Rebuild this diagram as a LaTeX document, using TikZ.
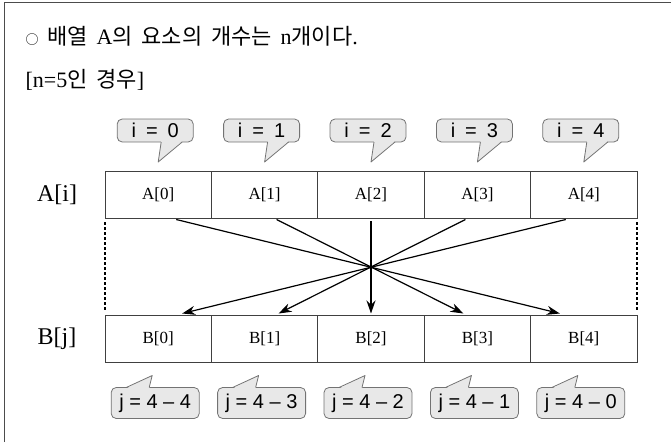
\documentclass[tikz,border=0pt]{standalone}
\usepackage{fontspec}
\setmainfont{Liberation Serif}
\setsansfont{Liberation Sans}
\newfontfamily\krfont{Noto Sans CJK KR}
\usepackage{tikz}
\usetikzlibrary{positioning}
\usetikzlibrary{arrows.meta}

\begin{document}
\begin{tikzpicture}[
      x=1pt, y=-1pt,
      cell/.style={draw=black!75, line width=0.9pt, minimum width=106.4pt,
        minimum height=47pt, inner sep=0pt, outer sep=0pt,
        font=\fontsize{17}{17}\selectfont},
      rowlabel/.style={font=\fontsize{24}{24}\selectfont},
      headline/.style={anchor=west, font={\fontsize{22}{24}\selectfont\spaceskip 0.4em\relax}},
      bubble/.style={draw=black!55, fill=black!9, line width=0.8pt,
        rounded corners=5pt, inner sep=0pt, outer sep=0pt},
      topbubble/.style={bubble, minimum width=76pt, minimum height=23pt,
        font=\sffamily\fontsize{20}{20}\selectfont},
      botbubble/.style={bubble, minimum width=88pt, minimum height=31pt,
        font=\sffamily\fontsize{20}{20}\selectfont},
      tailfill/.style={fill=black!9},
      tailline/.style={draw=black!55, line width=0.8pt, line join=round},
      revarrow/.style={-{Stealth[length=13pt,width=9pt]}, line width=1.2pt},
      guide/.style={line width=1.6pt, dash pattern=on 3pt off 2pt}
    ]
    \useasboundingbox (0,0) rectangle (671,442);
    \draw[black!70, line width=1pt] (4,442) -- (4,2) -- (671,2);

    % text on top
    \node[headline] (title) at (22,36)
      {{\krfont\fontsize{13}{13}\selectfont ○} {\krfont 배열} A{\krfont 의 요소의 개수는} n{\krfont 개이다}.};
    \node[headline] (case) at (22,80)
      {[n=5{\krfont 인 경우}]};

    % array A
    \node[rowlabel] (alabel) at (57,195) {A[i]};
    \node[cell] (a0) at (158.2,194.5) {A[0]};
    \node[cell, right=0pt of a0] (a1) {A[1]};
    \node[cell, right=0pt of a1] (a2) {A[2]};
    \node[cell, right=0pt of a2] (a3) {A[3]};
    \node[cell, right=0pt of a3] (a4) {A[4]};

    % array B
    \node[rowlabel] (blabel) at (57,339) {B[j]};
    \node[cell] (b0) at (158.2,339) {B[0]};
    \node[cell, right=0pt of b0] (b1) {B[1]};
    \node[cell, right=0pt of b1] (b2) {B[2]};
    \node[cell, right=0pt of b2] (b3) {B[3]};
    \node[cell, right=0pt of b3] (b4) {B[4]};

    % index bubbles for i
    \node[topbubble, above=29pt of a0, xshift=-3pt] (i0) {i\enspace=\enspace0};
    \node[topbubble, above=29pt of a1, xshift=-3pt] (i1) {i\enspace=\enspace1};
    \node[topbubble, above=29pt of a2, xshift=-3pt] (i2) {i\enspace=\enspace2};
    \node[topbubble, above=29pt of a3, xshift=-3pt] (i3) {i\enspace=\enspace3};
    \node[topbubble, above=29pt of a4, xshift=-3pt] (i4) {i\enspace=\enspace4};
    \fill[tailfill] ([xshift=6pt,yshift=1pt]i0.south) -- ++(-3,21) -- ++(24,-21);
    \draw[tailline] ([xshift=6pt]i0.south) -- ++(-3,20) -- ++(24,-20);
    \fill[tailfill] ([xshift=6pt,yshift=1pt]i1.south) -- ++(-3,21) -- ++(24,-21);
    \draw[tailline] ([xshift=6pt]i1.south) -- ++(-3,20) -- ++(24,-20);
    \fill[tailfill] ([xshift=6pt,yshift=1pt]i2.south) -- ++(-3,21) -- ++(24,-21);
    \draw[tailline] ([xshift=6pt]i2.south) -- ++(-3,20) -- ++(24,-20);
    \fill[tailfill] ([xshift=6pt,yshift=1pt]i3.south) -- ++(-3,21) -- ++(24,-21);
    \draw[tailline] ([xshift=6pt]i3.south) -- ++(-3,20) -- ++(24,-20);
    \fill[tailfill] ([xshift=6pt,yshift=1pt]i4.south) -- ++(-3,21) -- ++(24,-21);
    \draw[tailline] ([xshift=6pt]i4.south) -- ++(-3,20) -- ++(24,-20);

    % index bubbles for j
    \node[botbubble, below=25pt of b0, xshift=-3pt] (j0) {j = 4 – 4};
    \node[botbubble, below=25pt of b1, xshift=-3pt] (j1) {j = 4 – 3};
    \node[botbubble, below=25pt of b2, xshift=-3pt] (j2) {j = 4 – 2};
    \node[botbubble, below=25pt of b3, xshift=-3pt] (j3) {j = 4 – 1};
    \node[botbubble, below=25pt of b4, xshift=-3pt] (j4) {j = 4 – 0};
    \fill[tailfill] ([xshift=-29pt,yshift=-1pt]j0.north) -- ++(26,-13) -- ++(-3,13);
    \draw[tailline] ([xshift=-29pt]j0.north) -- ++(26,-12) -- ++(-3,12);
    \fill[tailfill] ([xshift=-29pt,yshift=-1pt]j1.north) -- ++(26,-13) -- ++(-3,13);
    \draw[tailline] ([xshift=-29pt]j1.north) -- ++(26,-12) -- ++(-3,12);
    \fill[tailfill] ([xshift=-29pt,yshift=-1pt]j2.north) -- ++(26,-13) -- ++(-3,13);
    \draw[tailline] ([xshift=-29pt]j2.north) -- ++(26,-12) -- ++(-3,12);
    \fill[tailfill] ([xshift=-29pt,yshift=-1pt]j3.north) -- ++(26,-13) -- ++(-3,13);
    \draw[tailline] ([xshift=-29pt]j3.north) -- ++(26,-12) -- ++(-3,12);
    \fill[tailfill] ([xshift=-29pt,yshift=-1pt]j4.north) -- ++(26,-13) -- ++(-3,13);
    \draw[tailline] ([xshift=-29pt]j4.north) -- ++(26,-12) -- ++(-3,12);

    % reversing arrows
    \draw[revarrow] ([xshift=18pt,yshift=-1.5pt]a0.south) -- ([xshift=-24pt,yshift=2pt]b4.north);
    \draw[revarrow] ([xshift=12pt,yshift=-1.5pt]a1.south) -- ([xshift=-14pt,yshift=2pt]b3.north);
    \draw[revarrow] ([yshift=-3pt]a2.south) -- ([yshift=2pt]b2.north);
    \draw[revarrow] ([xshift=-12pt,yshift=-1.5pt]a3.south) -- ([xshift=14pt,yshift=2pt]b1.north);
    \draw[revarrow] ([xshift=-18pt,yshift=-1.5pt]a4.south) -- ([xshift=24pt,yshift=2pt]b0.north);

    % dotted side guides
    \draw[guide] ([yshift=-4pt]a0.south west) -- ([yshift=6pt]b0.north west);
    \draw[guide] ([yshift=-4pt]a4.south east) -- ([yshift=6pt]b4.north east);
\end{tikzpicture}
\end{document}
